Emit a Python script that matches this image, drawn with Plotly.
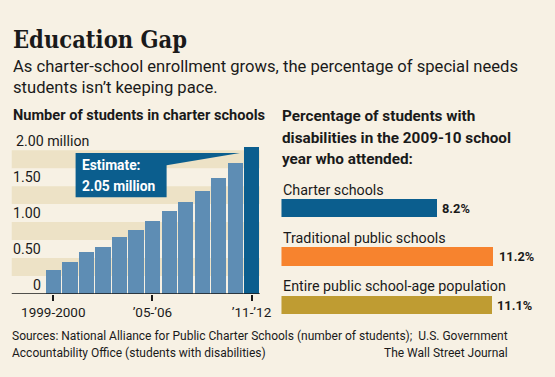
import plotly.graph_objects as go

W, H = 555, 377
def px(x): return x / W
def py(y): return 1 - y / H

# ---- data ----
years = ["1999-2000", "2000-01", "2001-02", "2002-03", "2003-04", "2004-05", "2005-06",
         "2006-07", "2007-08", "2008-09", "2009-10", "2010-11", "2011-12"]
enrollment = [0.34, 0.45, 0.58, 0.66, 0.79, 0.89, 1.01, 1.15, 1.28, 1.43, 1.61, 1.82, 2.05]
tick_idx = [0, 6, 12]
tick_text = ["1999-2000", "\u201905-\u201906", "\u201911-\u201912"]
y_ticks = [0, 0.5, 1.0, 1.5, 2.0]
y_tick_text = ["0", "0.50", "1.00", "1.50", "2.00 million"]

groups = ["Charter schools", "Traditional public schools", "Entire public school-age population"]
pct = [8.2, 11.2, 11.1]
pct_text = ["8.2%", "11.2%", "11.1%"]

BG = "#f7f1e4"
BAND = "#ede2c6"
LIGHTBLUE = "#5e8db4"
DARKBLUE = "#0b5e8e"
ORANGE = "#f7832e"
GOLD = "#bf9c32"
INK = "#1a1a1a"
SANS = "Roboto, Liberation Sans, sans-serif"
SERIF = "DejaVu Serif Condensed, DejaVu Serif, serif"

bar_colors = [LIGHTBLUE] * (len(years) - 1) + [DARKBLUE]

fig = go.Figure()
fig.add_trace(go.Bar(
    x=list(range(len(years))), y=enrollment, marker_color=bar_colors,
    marker_line_width=0, width=0.93, xaxis="x", yaxis="y", hoverinfo="skip"))

fig.add_trace(go.Bar(
    x=pct, y=list(range(len(groups))), orientation="h",
    marker_color=[DARKBLUE, ORANGE, GOLD], marker_line_width=0, width=0.38,
    xaxis="x2", yaxis="y2", hoverinfo="skip"))

shapes = []
for lo in [0.25, 0.75, 1.25, 1.75]:
    shapes.append(dict(type="rect", xref="x domain", yref="y", x0=0, x1=1,
                       y0=lo, y1=lo + 0.25, fillcolor=BAND, line_width=0, layer="below"))
last = len(years) - 1
shapes.append(dict(type="path", xref="x", yref="y", layer="above",
                   path=f"M 1.35 1.96 L {last - 0.7} 1.96 L 6.86 1.79 L 6.86 1.345 L 1.35 1.345 Z",
                   fillcolor=DARKBLUE, line_width=0))
shapes.append(dict(type="line", xref="x domain", yref="y", x0=0, x1=1, y0=0, y1=0,
                   line=dict(color=INK, width=1.5)))

ann = []
def text(x, y, s, size, bold=False, family=SANS, color=INK, xanchor="left", yanchor="middle"):
    ann.append(dict(xref="paper", yref="paper", x=px(x), y=py(y), text=(f"<b>{s}</b>" if bold else s),
                    showarrow=False, xanchor=xanchor, yanchor=yanchor,
                    font=dict(family=family, size=size, color=color)))

text(11, 40, "Education Gap", 23.5, bold=True, family=SERIF)
text(11, 66, "As charter-school enrollment grows, the percentage of special needs", 16.6)
text(11, 87, "students isn\u2019t keeping pace.", 16.6)
text(11, 115, "Number of students in charter schools", 14.6, bold=True)

text(286, 116, "Percentage of students with", 15.3, bold=True)
text(286, 138, "disabilities in the 2009-10 school", 15.3, bold=True)
text(286, 159, "year who attended:", 15.3, bold=True)

text(10, 336, "Sources: National Alliance for Public Charter Schools (number of students);  U.S. Government", 12)
text(10, 353, "Accountability Office (students with disabilities)", 12)
text(521, 353, "The Wall Street Journal", 12, xanchor="right")

for v, t in zip(y_ticks, y_tick_text):
    if v == 2.0:
        ann.append(dict(xref="paper", yref="y", x=px(14), y=v, yshift=9, text=t, showarrow=False,
                        xanchor="left", yanchor="middle", font=dict(family=SANS, size=14.2, color=INK)))
    else:
        ann.append(dict(xref="paper", yref="y", x=px(44), y=v, yshift=9, text=t, showarrow=False,
                        xanchor="right", yanchor="middle", font=dict(family=SANS, size=14.2, color=INK)))

ann.append(dict(xref="x", yref="y", x=1.35, y=1.8, xshift=4, text="<b>Estimate:</b>", showarrow=False,
                xanchor="left", yanchor="middle", font=dict(family=SANS, size=13.8, color="white")))
ann.append(dict(xref="x", yref="y", x=1.35, y=1.5, xshift=4, text=f"<b>{enrollment[-1]:.2f} million</b>",
                showarrow=False, xanchor="left", yanchor="middle",
                font=dict(family=SANS, size=13.8, color="white")))

for i, (g, v, t) in enumerate(zip(groups, pct, pct_text)):
    ann.append(dict(xref="x2", yref="y2", x=0, y=i, yshift=19, text=g, showarrow=False,
                    xanchor="left", yanchor="middle", font=dict(family=SANS, size=14.3, color=INK)))
    ann.append(dict(xref="x2", yref="y2", x=v, y=i, xshift=3, text=f"<b>{t}</b>", showarrow=False,
                    xanchor="left", yanchor="middle", font=dict(family=SANS, size=12.8, color=INK)))

fig.update_layout(
    width=W, height=H, margin=dict(l=0, r=0, t=0, b=0), autosize=False,
    paper_bgcolor=BG, plot_bgcolor="rgba(0,0,0,0)", showlegend=False, bargap=0,
    shapes=shapes, annotations=ann,
    xaxis=dict(domain=[px(12), px(265.5)], range=[-2.516, 12.5], showgrid=False, zeroline=False,
               tickmode="array", tickvals=tick_idx, ticktext=tick_text, ticks="outside",
               ticklen=6, tickcolor=INK, tickwidth=1.5,
               tickfont=dict(family=SANS, size=13.5, color=INK), fixedrange=True),
    yaxis=dict(domain=[py(294), py(143)], range=[0, 2.1], showgrid=False, zeroline=False,
               showticklabels=False, fixedrange=True),
    xaxis2=dict(domain=[px(287.7), px(287.7 + 19.39 * 13)], range=[0, 13], anchor="y2",
                visible=False, fixedrange=True),
    yaxis2=dict(domain=[py(329.6), py(184.3)], range=[2.5, -0.5], anchor="x2",
                visible=False, fixedrange=True),
)

fig.write_html("out.html", config={"responsive": False, "displayModeBar": False},
               default_width="555px", default_height="377px",
               post_script="document.body.style.margin='0';document.body.style.overflow='hidden';")
